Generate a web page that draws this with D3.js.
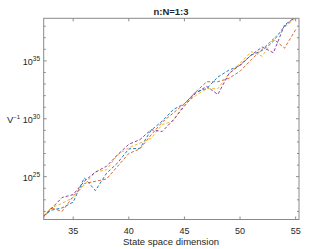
<!DOCTYPE html>
<html>
<head>
<meta charset="utf-8">
<script src="https://cdn.jsdelivr.net/npm/d3@7"></script>
<style>
    body{ margin:0; background:#fff; }
    svg text{ font-family:"Liberation Sans", Arial, sans-serif; fill:#262626; }
</style>
</head>
<body>
<svg class="chart"></svg>
<script>
// state space dimension
const dims = d3.range(32, 56);
// log10 of V^-1 for each run
const runBlue   = [21.3,22.1,22.3,22.8,24.9,23.8,25.3,26.2,27.4,27.45,29.0,29.8,30.8,31.3,32.3,32.6,33.6,34.2,34.6,35.5,35.9,36.7,38.0,38.8];
const runOrange = [21.0,22.3,22.0,23.3,24.4,24.6,24.8,25.9,27.0,27.4,28.6,29.7,30.5,31.3,32.3,33.2,33.2,33.5,34.1,35.1,36.0,36.9,36.1,37.7];
const runYellow = [21.2,22.3,22.7,23.2,24.3,25.4,25.6,26.9,27.5,27.9,28.3,29.5,29.8,31.3,32.0,32.6,32.6,33.9,34.8,35.8,35.4,36.9,37.9,38.7];
const runPurple = [21.3,22.2,23.2,23.45,24.6,25.4,25.9,26.9,27.8,28.2,29.05,28.9,29.9,31.1,32.2,32.8,32.1,33.9,34.65,35.5,36.2,35.7,38.1,38.8];
const seriesColors = ["#0072BD","#D95319","#EDB120","#7E2F8E"];
const xTicks = [35, 40, 45, 50, 55];
const yMajor = [25, 30, 35];

const W = 332, H = 249;
const mLeft = 43.7, mRight = 299, mTop = 18.3, mBottom = 219.5;

const svg = d3.select(".chart").attr("width", W).attr("height", H);

const x = d3.scaleLinear().domain([32.35, 55.3]).range([mLeft, mRight]);
const y = d3.scaleLog().domain([Math.pow(10, 21.3), Math.pow(10, 38.68)]).range([mBottom, mTop]);

svg.append("defs").append("clipPath").attr("id", "plotclip")
    .append("rect").attr("x", mLeft).attr("y", mTop)
    .attr("width", mRight - mLeft).attr("height", mBottom - mTop);

// lines
const line = d3.line()
    .x((d, i) => x(dims[i]))
    .y(d => y(Math.pow(10, d)));

const g = svg.append("g").attr("clip-path", "url(#plotclip)");
[runBlue, runOrange, runYellow, runPurple].forEach((s, k) => {
    g.append("path")
        .datum(s)
        .attr("d", line)
        .attr("fill", "none")
        .attr("stroke", seriesColors[k])
        .attr("stroke-width", 0.9)
        .attr("stroke-dasharray", "3,2");
});

// box
svg.append("rect")
    .attr("x", mLeft).attr("y", mTop)
    .attr("width", mRight - mLeft).attr("height", mBottom - mTop)
    .attr("fill", "none").attr("stroke", "#8a8a8a").attr("stroke-width", 1);

// x ticks top and bottom
xTicks.forEach(t => {
    const xx = x(t);
    svg.append("line").attr("x1", xx).attr("x2", xx).attr("y1", mBottom).attr("y2", mBottom - 3)
        .attr("stroke", "#8a8a8a");
    svg.append("line").attr("x1", xx).attr("x2", xx).attr("y1", mTop).attr("y2", mTop + 3)
        .attr("stroke", "#8a8a8a");
    svg.append("text").attr("x", xx).attr("y", 234)
        .attr("text-anchor", "middle").style("font-size", "9px").text(t);
});

// y ticks, one per decade, labels every 5
d3.range(22, 39).forEach(e => {
    const yy = y(Math.pow(10, e));
    const len = yMajor.includes(e) ? 3 : 2;
    svg.append("line").attr("x1", mLeft).attr("x2", mLeft + len).attr("y1", yy).attr("y2", yy)
        .attr("stroke", "#8a8a8a");
    svg.append("line").attr("x1", mRight).attr("x2", mRight - len).attr("y1", yy).attr("y2", yy)
        .attr("stroke", "#8a8a8a");
});

yMajor.forEach(e => {
    const yy = y(Math.pow(10, e));
    const t = svg.append("text").attr("x", 40).attr("y", yy + 4)
        .attr("text-anchor", "end").style("font-size", "9px");
    t.append("tspan").text("10");
    t.append("tspan").attr("dy", -4).style("font-size", "6.5px").text(e);
});

// labels
svg.append("text").attr("x", 171).attr("y", 245)
    .attr("text-anchor", "middle").style("font-size", "9.5px")
    .text("State space dimension");

const yl = svg.append("text").attr("x", 7).attr("y", 123).style("font-size", "9.5px");
yl.append("tspan").text("V");
yl.append("tspan").attr("dy", -4).style("font-size", "6px").text("−1");

svg.append("text").attr("x", 171).attr("y", 15)
    .attr("text-anchor", "middle").style("font-size", "9.5px").attr("font-weight", "bold")
    .text("n:N=1:3");
</script>
</body>
</html>
